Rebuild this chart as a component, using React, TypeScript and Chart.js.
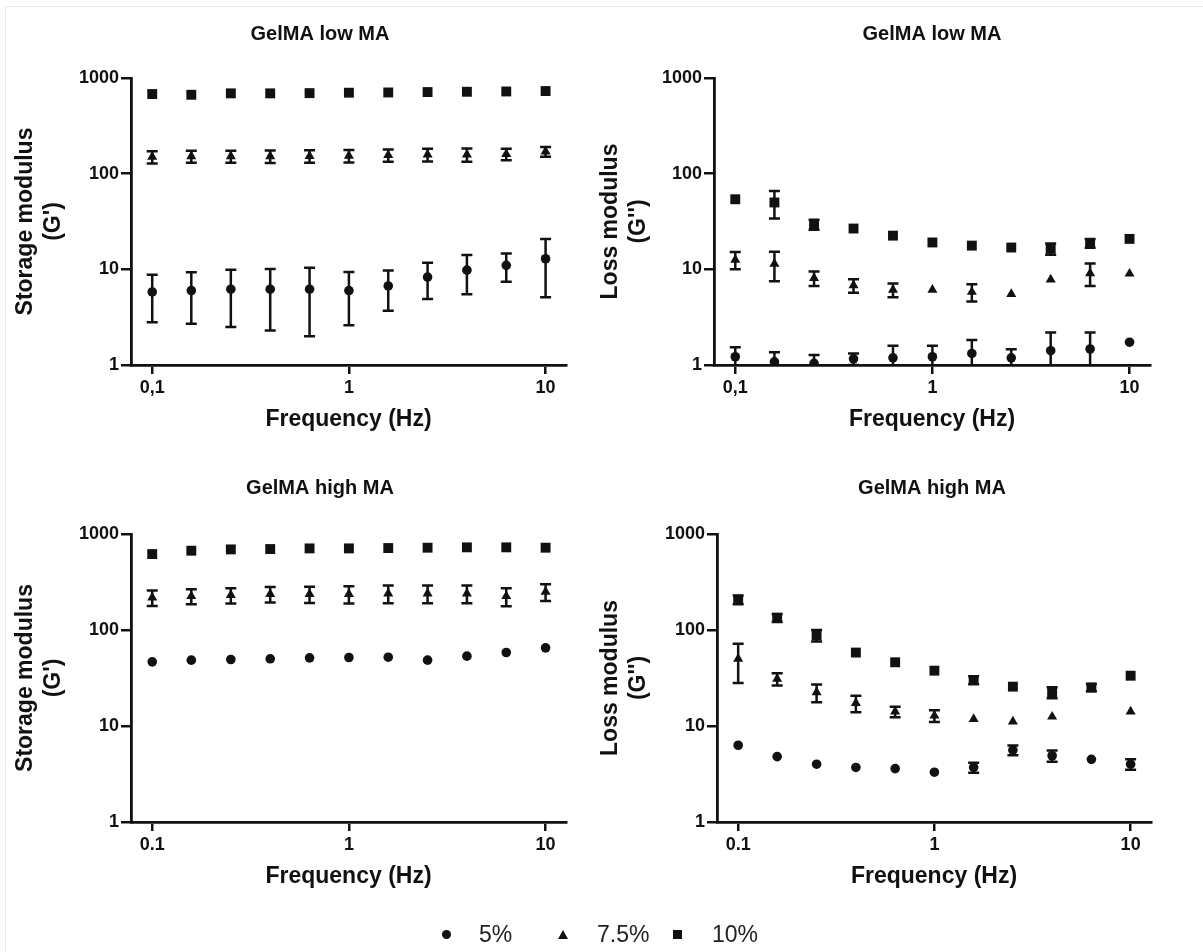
import React, { useEffect, useRef } from "react";
import { Chart, registerables } from "chart.js";

Chart.register(...registerables);

const FONT = '"Liberation Sans", Arial, Helvetica, sans-serif';
const INK = "#111111";

// ---------- data ----------
const FREQUENCY_HZ = [0.1, 0.158, 0.251, 0.398, 0.631, 1, 1.585, 2.512, 3.981, 6.31, 10];
const X_TICK_VALUES = [0.1, 1, 10];
const X_TICK_LABELS_TOP = ["0,1", "1", "10"];
const X_TICK_LABELS_BOTTOM = ["0.1", "1", "10"];
const Y_TICK_VALUES = [1, 10, 100, 1000];
const Y_TICK_LABELS = ["1", "10", "100", "1000"];
const SERIES_NAMES = ["5%", "7.5%", "10%"];
const SERIES_SYMBOLS = ["circle", "triangle", "rect"];

const PANEL_TITLES = ["GelMA low MA", "GelMA low MA", "GelMA high MA", "GelMA high MA"];
const STORAGE_TITLE = ["Storage modulus", "(G')"];
const LOSS_TITLE = ["Loss modulus", "(G'')"];
const X_TITLE = "Frequency (Hz)";

// Storage modulus, GelMA low MA
const A_5 = [5.8, 6.0, 6.2, 6.2, 6.2, 6.0, 6.7, 8.3, 9.8, 11.0, 12.9];
const A_5_SD = [3.0, 3.3, 3.7, 3.9, 4.2, 3.4, 3.0, 3.4, 4.3, 3.6, 7.8];
const A_75 = [150, 152, 152, 152, 153, 154, 156, 158, 158, 160, 170];
const A_75_SD = [22, 22, 22, 23, 23, 23, 23, 24, 25, 22, 20];
const A_10 = [680, 668, 691, 691, 695, 702, 706, 713, 718, 723, 730];
const A_10_SD = [0, 0, 0, 0, 0, 0, 0, 0, 0, 0, 0];

// Loss modulus, GelMA low MA
const B_5 = [1.22, 1.08, 1.04, 1.16, 1.19, 1.22, 1.32, 1.19, 1.41, 1.47, 1.73];
const B_5_SD = [0.31, 0.28, 0.23, 0.16, 0.4, 0.37, 0.5, 0.27, 0.77, 0.71, 0];
const B_75 = [12.6, 11.4, 8.1, 6.8, 6.1, 6.1, 5.8, 5.5, 7.8, 9.1, 9.0];
const B_75_SD = [2.6, 3.9, 1.4, 1.1, 1.0, 0, 1.2, 0, 0, 2.4, 0];
const B_10 = [54, 50, 29.5, 26.7, 22.5, 19.1, 17.7, 16.9, 16.4, 18.8, 20.8];
const B_10_SD = [0, 16, 3.5, 0, 0, 0, 0, 0, 2.2, 2.0, 0];

// Storage modulus, GelMA high MA
const C_5 = [46.6, 48.5, 49.3, 50.1, 51.3, 51.7, 52.1, 48.5, 53.4, 58.3, 65.2];
const C_5_SD = [0, 0, 0, 0, 0, 0, 0, 0, 0, 0, 0];
const C_75 = [218, 225, 231, 237, 237, 237, 240, 240, 240, 225, 250];
const C_75_SD = [40, 40, 42, 44, 46, 48, 50, 50, 50, 48, 50];
const C_10 = [618, 670, 691, 697, 708, 708, 714, 720, 726, 726, 720];
const C_10_SD = [0, 0, 0, 0, 0, 0, 0, 0, 0, 0, 0];

// Loss modulus, GelMA high MA
const D_5 = [6.3, 4.8, 4.0, 3.7, 3.6, 3.3, 3.7, 5.6, 4.9, 4.5, 4.0];
const D_5_SD = [0, 0, 0, 0, 0, 0, 0.45, 0.65, 0.65, 0, 0.5];
const D_75 = [50, 30.9, 22.4, 17.3, 14.1, 12.8, 11.8, 11.1, 12.5, null, 14.1];
const D_75_SD = [22, 4.5, 4.7, 3.4, 1.8, 1.8, 0, 0, 0, 0, 0];
const D_10 = [207, 134, 88, 58.2, 46.1, 37.7, 30.1, 25.7, 22.4, 25.2, 33.4];
const D_10_SD = [22, 13, 12, 0, 0, 0, 2.8, 0, 3.0, 2.2, 0];

// ---------- styling / layout ----------
const POINT_RADII = [4.8, 5.8, 7];
const CAP = 5.5;
const X_AXIS_H = 80;
const X_MIN = 0.078;
const X_MAX = 12.7;

const errorBarPlugin = {
  id: "errorBars",
  afterDatasetsDraw(chart: any) {
    const { ctx, chartArea, scales } = chart;
    const xs = scales.x;
    const ys = scales.y;
    ctx.save();
    ctx.beginPath();
    ctx.rect(chartArea.left, chartArea.top - 8, chartArea.right - chartArea.left, chartArea.bottom - chartArea.top + 8);
    ctx.clip();
    ctx.strokeStyle = INK;
    ctx.lineWidth = 2.5;
    chart.data.datasets.forEach((ds: any) => {
      ds.data.forEach((p: any) => {
        if (!p.e) return;
        const x = xs.getPixelForValue(p.x);
        const yHi = ys.getPixelForValue(p.y + p.e);
        const lo = p.y - p.e;
        const yLo = lo > 0 ? ys.getPixelForValue(lo) : chartArea.bottom + 20;
        ctx.beginPath();
        ctx.moveTo(x, yHi);
        ctx.lineTo(x, yLo);
        ctx.moveTo(x - CAP, yHi);
        ctx.lineTo(x + CAP, yHi);
        ctx.moveTo(x - CAP, yLo);
        ctx.lineTo(x + CAP, yLo);
        ctx.stroke();
      });
    });
    ctx.restore();
  },
};

type Series = { mean: (number | null)[]; sd: number[] };

type PanelProps = {
  left: number;
  top: number;
  width: number;
  height: number;
  chartLeft: number;
  chartRight: number;
  chartTop: number;
  chartBottom: number;
  titleTop: number;
  yTitlePad: number;
  title: string;
  yTitle: string[];
  xLabels: string[];
  series: Series[];
};

function Panel(props: PanelProps) {
  const ref = useRef<HTMLCanvasElement>(null);
  useEffect(() => {
    const p = props;
    const titleLine = 24;
    const chart = new Chart(ref.current as HTMLCanvasElement, {
      type: "scatter",
      data: {
        datasets: p.series.map((s, k) => ({
          label: SERIES_NAMES[k],
          data: FREQUENCY_HZ.map((f, i) => ({ x: f, y: s.mean[i], e: s.sd[i] })).filter((d) => d.y != null) as any,
          pointStyle: SERIES_SYMBOLS[k] as any,
          pointRadius: POINT_RADII[k],
          pointHoverRadius: POINT_RADII[k],
          backgroundColor: INK,
          borderColor: INK,
          borderWidth: 0,
          showLine: false,
        })),
      },
      options: {
        responsive: false,
        animation: false,
        events: [],
        devicePixelRatio: 1,
        layout: {
          padding: { left: 0, right: 0, top: 0, bottom: p.height - p.chartBottom - X_AXIS_H },
        },
        plugins: {
          legend: { display: false },
          tooltip: { enabled: false },
          title: {
            display: true,
            text: p.title,
            color: INK,
            font: { family: FONT, size: 20, weight: "bold", lineHeight: 1.2 },
            padding: { top: p.titleTop, bottom: p.chartTop - p.titleTop - titleLine },
          },
        },
        scales: {
          x: {
            type: "logarithmic",
            position: "bottom",
            min: X_MIN,
            max: X_MAX,
            afterBuildTicks: (axis: any) => {
              axis.ticks = X_TICK_VALUES.map((v) => ({ value: v }));
            },
            afterFit: (axis: any) => {
              axis.height = X_AXIS_H;
            },
            ticks: {
              autoSkip: false,
              maxRotation: 0,
              padding: 3,
              color: INK,
              font: { family: FONT, size: 18, weight: "bold" },
              callback: (_v: any, i: number) => p.xLabels[i],
            },
            grid: {
              display: true,
              drawOnChartArea: false,
              drawTicks: true,
              tickLength: 9,
              tickWidth: 2.5,
              tickColor: INK,
              color: INK,
              lineWidth: 2.5,
            },
            border: { display: true, color: INK, width: 2.8 },
            title: {
              display: true,
              text: X_TITLE,
              color: INK,
              font: { family: FONT, size: 23, weight: "bold", lineHeight: 1.2 },
              padding: { top: 0, bottom: 12 },
            },
          },
          y: {
            type: "logarithmic",
            position: "left",
            min: 1,
            max: 1000,
            afterBuildTicks: (axis: any) => {
              axis.ticks = Y_TICK_VALUES.map((v) => ({ value: v }));
            },
            afterFit: (axis: any) => {
              axis.width = p.chartLeft;
            },
            ticks: {
              autoSkip: false,
              padding: 2,
              color: INK,
              font: { family: FONT, size: 18, weight: "bold" },
              callback: (_v: any, i: number) => Y_TICK_LABELS[i],
            },
            grid: {
              display: true,
              drawOnChartArea: false,
              drawTicks: true,
              tickLength: 10,
              tickWidth: 2.5,
              tickColor: INK,
              color: INK,
              lineWidth: 2.5,
            },
            border: { display: true, color: INK, width: 2.8 },
            title: {
              display: true,
              text: p.yTitle,
              color: INK,
              font: { family: FONT, size: 23, weight: "bold", lineHeight: 1.2 },
              padding: { top: p.yTitlePad, bottom: 0 },
            },
          },
          spacer: {
            type: "linear",
            position: "right",
            display: true,
            afterFit: (axis: any) => {
              axis.width = p.width - p.chartRight;
            },
            ticks: { display: false },
            grid: { display: false, drawTicks: false },
            border: { display: false },
            title: { display: false },
          },
        },
      } as any,
      plugins: [errorBarPlugin],
    });
    return () => chart.destroy();
  }, []);
  return (
    <canvas
      ref={ref}
      width={props.width}
      height={props.height}
      style={{ position: "absolute", left: props.left, top: props.top, width: props.width, height: props.height }}
    />
  );
}

const legendText: React.CSSProperties = {
  position: "absolute",
  top: 920,
  height: 28,
  lineHeight: "28px",
  fontFamily: FONT,
  fontSize: 23,
  color: "#222",
};

export default function App() {
  return (
    <div
      style={{
        position: "absolute",
        left: 0,
        top: 0,
        width: 1203,
        height: 952,
        overflow: "hidden",
        background: "#ffffff",
      }}
    >
      {/* faint figure frame (top and left edges) */}
      <div style={{ position: "absolute", left: 5, top: 6, width: 1198, height: 1, background: "#ececec" }} />
      <div style={{ position: "absolute", left: 5, top: 6, width: 1, height: 946, background: "#ececec" }} />
      <Panel
        left={0}
        top={0}
        width={640}
        height={450}
        chartLeft={131}
        chartRight={566}
        chartTop={78}
        chartBottom={365}
        titleTop={22}
        yTitlePad={12}
        title={PANEL_TITLES[0]}
        yTitle={STORAGE_TITLE}
        xLabels={X_TICK_LABELS_TOP}
        series={[
          { mean: A_5, sd: A_5_SD },
          { mean: A_75, sd: A_75_SD },
          { mean: A_10, sd: A_10_SD },
        ]}
      />
      <Panel
        left={580}
        top={0}
        width={704}
        height={450}
        chartLeft={134}
        chartRight={570}
        chartTop={78}
        chartBottom={365}
        titleTop={22}
        yTitlePad={17}
        title={PANEL_TITLES[1]}
        yTitle={LOSS_TITLE}
        xLabels={X_TICK_LABELS_TOP}
        series={[
          { mean: B_5, sd: B_5_SD },
          { mean: B_75, sd: B_75_SD },
          { mean: B_10, sd: B_10_SD },
        ]}
      />
      <Panel
        left={0}
        top={450}
        width={640}
        height={502}
        chartLeft={131}
        chartRight={566}
        chartTop={84}
        chartBottom={372}
        titleTop={26}
        yTitlePad={12}
        title={PANEL_TITLES[2]}
        yTitle={STORAGE_TITLE}
        xLabels={X_TICK_LABELS_BOTTOM}
        series={[
          { mean: C_5, sd: C_5_SD },
          { mean: C_75, sd: C_75_SD },
          { mean: C_10, sd: C_10_SD },
        ]}
      />
      <Panel
        left={580}
        top={450}
        width={704}
        height={502}
        chartLeft={137}
        chartRight={571}
        chartTop={84}
        chartBottom={372}
        titleTop={26}
        yTitlePad={17}
        title={PANEL_TITLES[3]}
        yTitle={LOSS_TITLE}
        xLabels={X_TICK_LABELS_BOTTOM}
        series={[
          { mean: D_5, sd: D_5_SD },
          { mean: D_75, sd: D_75_SD },
          { mean: D_10, sd: D_10_SD },
        ]}
      />
      {/* legend */}
      <div style={{ position: "absolute", left: 442, top: 930, width: 9, height: 9, borderRadius: "50%", background: INK }} />
      <div style={{ ...legendText, left: 479 }}>{SERIES_NAMES[0]}</div>
      <div
        style={{
          position: "absolute",
          left: 558,
          top: 930,
          width: 0,
          height: 0,
          borderLeft: "5px solid transparent",
          borderRight: "5px solid transparent",
          borderBottom: "9px solid " + INK,
        }}
      />
      <div style={{ ...legendText, left: 597 }}>{SERIES_NAMES[1]}</div>
      <div style={{ position: "absolute", left: 673, top: 930, width: 9, height: 9, background: INK }} />
      <div style={{ ...legendText, left: 712 }}>{SERIES_NAMES[2]}</div>
    </div>
  );
}
